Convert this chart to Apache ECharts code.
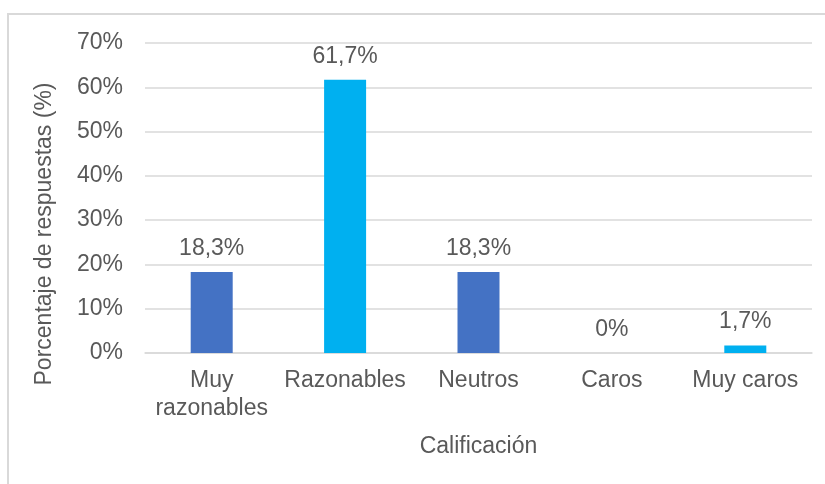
<!DOCTYPE html>
<html>
<head>
<meta charset="utf-8">
<script src="https://cdn.jsdelivr.net/npm/echarts@6/dist/echarts.min.js"></script>
<style>
html,body{margin:0;padding:0;background:#fff;}
#frame{position:absolute;left:7px;top:13px;width:830px;height:480px;border:2px solid #d9d9d9;box-sizing:border-box;}
#chart{position:absolute;left:0;top:0;width:825px;height:484px;}
</style>
</head>
<body>
<div id="frame"></div>
<div id="chart"></div>
<script>
const categories = ['Muy\nrazonables', 'Razonables', 'Neutros', 'Caros', 'Muy caros'];
const values = [18.3, 61.7, 18.3, 0, 1.7];
const barColors = ['#4472C4', '#00B0F0', '#4472C4', '#00B0F0', '#00B0F0'];
const yTicks = [0, 10, 20, 30, 40, 50, 60, 70];

const font = 'Liberation Sans, Arial, sans-serif';
const txt = '#595959';
const fs = 23;
const chart = echarts.init(document.getElementById('chart'), null, {renderer: 'canvas'});
chart.setOption({
  animation: false,
  grid: {left: 145, right: 13, top: 43, bottom: 131},
  xAxis: {
    type: 'category',
    data: categories,
    name: 'Calificación',
    nameLocation: 'middle',
    nameGap: 82,
    nameTextStyle: {color: txt, fontSize: fs, fontFamily: font},
    axisLine: {show: true, lineStyle: {color: '#d9d9d9', width: 1.5}},
    axisTick: {show: false},
    axisLabel: {color: txt, fontSize: fs, fontFamily: font, margin: 14, lineHeight: 28, interval: 0}
  },
  yAxis: {
    type: 'value',
    min: yTicks[0],
    max: yTicks[yTicks.length - 1],
    interval: 10,
    name: 'Porcentaje de respuestas (%)',
    nameLocation: 'middle',
    nameGap: 89,
    nameTextStyle: {color: txt, fontSize: fs, fontFamily: font, padding: [0, 72, 0, 0]},
    axisLine: {show: false},
    axisTick: {show: false},
    splitLine: {lineStyle: {color: '#d9d9d9', width: 1.5}},
    axisLabel: {color: txt, fontSize: fs, fontFamily: font, margin: 22, formatter: v => v + '%'}
  },
  series: [{
    type: 'bar',
    barWidth: 42,
    data: values.map((v, i) => ({value: v, itemStyle: {color: barColors[i]}})),
    label: {
      show: true,
      position: 'top',
      distance: 12,
      color: txt,
      fontSize: fs,
      fontFamily: font,
      formatter: p => String(p.value).replace('.', ',') + '%'
    }
  }]
});
</script>
</body>
</html>
